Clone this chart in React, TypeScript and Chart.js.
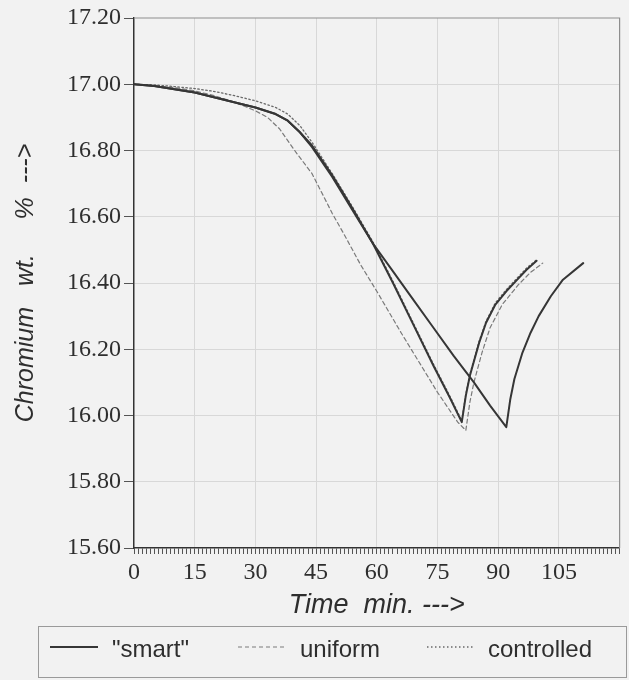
import { useEffect, useRef } from 'react';
import { Chart, registerables } from 'chart.js';

Chart.register(...registerables);

// ---- data ----
const seriesLabels = ['"smart"', 'uniform', 'controlled'];

const smartTime = [0, 5, 10, 15, 20, 25, 30, 35, 38, 41, 44, 49, 54, 59, 64, 69, 74, 79, 84, 88, 92, 93, 94, 96, 98, 100, 103, 106, 111];
const smartCr = [17.0, 16.995, 16.985, 16.975, 16.96, 16.945, 16.93, 16.91, 16.89, 16.855, 16.81, 16.72, 16.62, 16.52, 16.435, 16.35, 16.265, 16.18, 16.1, 16.03, 15.965, 16.05, 16.11, 16.19, 16.25, 16.3, 16.36, 16.41, 16.46];

const smart2Time = [0, 5, 10, 15, 20, 25, 30, 35, 38, 41, 44, 49, 54, 59, 64, 69, 74, 78, 81, 82, 83, 85.3, 87, 89.3, 92, 94.3, 97, 99.5];
const smart2Cr = [17.0, 16.995, 16.985, 16.975, 16.96, 16.945, 16.93, 16.91, 16.89, 16.855, 16.815, 16.725, 16.625, 16.52, 16.4, 16.275, 16.15, 16.055, 15.98, 16.06, 16.12, 16.22, 16.28, 16.335, 16.375, 16.405, 16.44, 16.467];

const uniformTime = [0, 5, 10, 15, 20, 25, 30, 33, 36, 40, 44, 49, 52, 56, 60, 66, 70, 75, 80, 82, 83, 84, 86, 88, 91, 95, 98, 101];
const uniformCr = [17.0, 16.995, 16.99, 16.98, 16.965, 16.945, 16.92, 16.9, 16.865, 16.795, 16.73, 16.61, 16.545, 16.455, 16.375, 16.25, 16.17, 16.07, 15.98, 15.955, 16.04, 16.1, 16.19, 16.265, 16.335, 16.395, 16.432, 16.46];

const controlledTime = [0, 5, 10, 15, 20, 25, 30, 35, 38, 41, 44, 49, 54, 59, 64, 69, 74, 78, 81, 82, 83, 85.3, 87, 89.3, 92, 94.3, 97, 99.5];
const controlledCr = [17.0, 16.998, 16.993, 16.987, 16.978, 16.965, 16.95, 16.93, 16.91, 16.875, 16.825, 16.73, 16.63, 16.525, 16.405, 16.28, 16.155, 16.06, 15.985, 16.065, 16.125, 16.225, 16.285, 16.34, 16.38, 16.41, 16.445, 16.47];

const xTickLabels = ['0', '15', '30', '45', '60', '75', '90', '105'];
const yTickLabels = ['15.60', '15.80', '16.00', '16.20', '16.40', '16.60', '16.80', '17.00', '17.20'];

const xTitle = 'Time  min. --->';
const yTitle = 'Chromium   wt.     %  --->';

// ---- styles ----
const BG = '#f2f2f2';
const INK = '#2e2e2e';
const GRID = '#d8d8d8';
const LEGEND_LINE_X = [50, 238, 427];
const LEGEND_TEXT_X = [112, 300, 488];

const zip = (t: number[], v: number[]) => t.map((x, i) => ({ x, y: v[i] }));

const bgPlugin = {
  id: 'bg',
  beforeDraw(chart: any) {
    const { ctx, width, height } = chart;
    ctx.save();
    ctx.fillStyle = BG;
    ctx.fillRect(0, 0, width, height);
    ctx.restore();
  },
};

const framePlugin = {
  id: 'frame',
  beforeDatasetsDraw(chart: any) {
    const { ctx, chartArea: a } = chart;
    ctx.save();
    ctx.strokeStyle = '#8e8e8e';
    ctx.lineWidth = 1.2;
    ctx.beginPath();
    ctx.moveTo(a.left, a.top);
    ctx.lineTo(a.right, a.top);
    ctx.lineTo(a.right, a.bottom);
    ctx.stroke();
    ctx.restore();
  },
};

const legendPlugin = {
  id: 'legendBox',
  afterDraw(chart: any) {
    const { ctx } = chart;
    ctx.save();
    ctx.strokeStyle = '#9a9a9a';
    ctx.lineWidth = 1;
    ctx.setLineDash([]);
    ctx.strokeRect(38.5, 626.5, 588, 51);
    const y = 650;
    chart.data.datasets.forEach((ds: any) => {
      const slot = ds.legendSlot;
      if (slot === undefined || slot < 0) return;
      ctx.strokeStyle = ds.borderColor;
      ctx.lineWidth = ds.borderWidth;
      ctx.setLineDash(ds.borderDash || []);
      ctx.beginPath();
      ctx.moveTo(LEGEND_LINE_X[slot], y - 3);
      ctx.lineTo(LEGEND_LINE_X[slot] + 48, y - 3);
      ctx.stroke();
      ctx.setLineDash([]);
      ctx.fillStyle = INK;
      ctx.font = '24px "Liberation Sans", Arial, sans-serif';
      ctx.textBaseline = 'middle';
      ctx.textAlign = 'left';
      ctx.fillText(ds.label, LEGEND_TEXT_X[slot], y);
    });
    ctx.restore();
  },
};

export default function App() {
  const ref = useRef<HTMLCanvasElement>(null);

  useEffect(() => {
    if (!ref.current) return;
    const chart = new Chart(ref.current, {
      type: 'line',
      data: {
        datasets: [
          {
            label: seriesLabels[0],
            legendSlot: 0,
            data: zip(smartTime, smartCr),
            borderColor: '#363636',
            borderWidth: 2,
            pointRadius: 0,
            tension: 0,
            order: 0,
          } as any,
          {
            label: seriesLabels[0],
            legendSlot: -1,
            data: zip(smart2Time, smart2Cr),
            borderColor: '#363636',
            borderWidth: 2,
            pointRadius: 0,
            tension: 0,
            order: 1,
          } as any,
          {
            label: seriesLabels[1],
            legendSlot: 1,
            data: zip(uniformTime, uniformCr),
            borderColor: '#7a7a7a',
            borderWidth: 1.2,
            borderDash: [4, 3],
            pointRadius: 0,
            tension: 0,
            order: 3,
          } as any,
          {
            label: seriesLabels[2],
            legendSlot: 2,
            data: zip(controlledTime, controlledCr),
            borderColor: '#6a6a6a',
            borderWidth: 1.3,
            borderDash: [1.5, 2.5],
            pointRadius: 0,
            tension: 0,
            order: 2,
          } as any,
        ],
      },
      options: {
        responsive: false,
        animation: false,
        devicePixelRatio: 1,
        layout: { padding: { left: 0, right: 9.4, top: 18, bottom: 56.6 } },
        elements: { line: { borderCapStyle: 'round', borderJoinStyle: 'round' } },
        plugins: {
          legend: { display: false },
          tooltip: { enabled: false },
          title: { display: false },
        },
        scales: {
          x: {
            type: 'linear',
            min: 0,
            max: 120,
            afterFit: (s: any) => {
              s.height = 75.4;
            },
            ticks: {
              stepSize: 1,
              autoSkip: false,
              maxRotation: 0,
              minRotation: 0,
              padding: 4,
              color: INK,
              font: { family: '"Liberation Serif", "Times New Roman", serif', size: 24 },
              callback: (v: any) => (xTickLabels.includes(String(v)) ? String(v) : ''),
            },
            grid: {
              color: (c: any) =>
                c.tick && c.tick.value % 15 === 0 && c.tick.value > 0 && c.tick.value < 120 ? GRID : 'rgba(0,0,0,0)',
              tickColor: '#555',
              tickLength: 6,
              lineWidth: 1,
            },
            border: { color: '#333', width: 1.5 },
            title: {
              display: true,
              text: xTitle,
              color: INK,
              font: { family: '"Liberation Sans", Arial, sans-serif', size: 27, style: 'italic' },
              padding: { top: 0, bottom: 2 },
            },
          },
          y: {
            type: 'linear',
            min: 15.6,
            max: 17.2,
            afterFit: (s: any) => {
              s.width = 134;
            },
            ticks: {
              stepSize: 0.2,
              autoSkip: false,
              padding: 3,
              color: INK,
              font: { family: '"Liberation Serif", "Times New Roman", serif', size: 24 },
              callback: (v: any) => {
                const s = Number(v).toFixed(2);
                return yTickLabels.includes(s) ? s : '';
              },
            },
            grid: {
              color: (c: any) => (c.tick && c.tick.value > 15.61 && c.tick.value < 17.19 ? GRID : 'rgba(0,0,0,0)'),
              tickColor: '#555',
              tickLength: 10,
              lineWidth: 1,
            },
            border: { color: '#333', width: 1.5 },
            title: {
              display: true,
              text: yTitle,
              color: INK,
              font: { family: '"Liberation Sans", Arial, sans-serif', size: 25, style: 'italic' },
              padding: { top: 11, bottom: 0 },
            },
          },
        },
      },
      plugins: [bgPlugin, framePlugin, legendPlugin],
    } as any);
    return () => chart.destroy();
  }, []);

  return (
    <div style={{ position: 'absolute', left: 0, top: 0, width: 629, height: 680, background: BG }}>
      <canvas ref={ref} width={629} height={680} style={{ display: 'block', width: 629, height: 680 }} />
    </div>
  );
}
